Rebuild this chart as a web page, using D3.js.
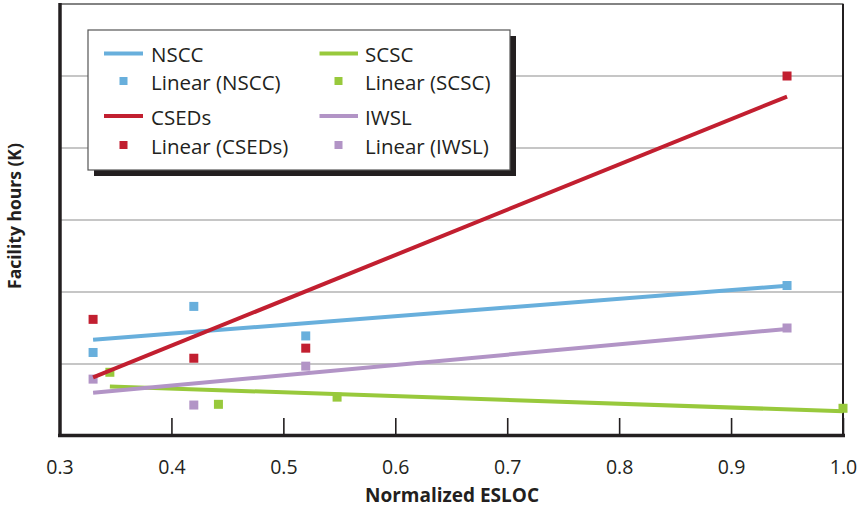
<!DOCTYPE html>
<html><head><meta charset="utf-8">
<script src="https://cdn.jsdelivr.net/npm/d3@7"></script>
<style>
html,body{margin:0;padding:0;background:#fff;}
svg{display:block;}
</style>
</head><body>
<svg id="chart" width="859" height="509"></svg>
<script>
// ---- data ----
const seriesNames = ["NSCC", "SCSC", "CSEDs", "IWSL"];
const seriesColors = ["#68afdc", "#98c93c", "#c21f30", "#b294c6"];
const xNSCC  = [0.33, 0.42, 0.52, 0.95];
const yNSCC  = [1.16, 1.80, 1.39, 2.09];
const xSCSC  = [0.345, 0.442, 0.548, 1.0];
const ySCSC  = [0.885, 0.44, 0.54, 0.385];
const xCSEDs = [0.33, 0.42, 0.52, 0.95];
const yCSEDs = [1.62, 1.08, 1.22, 5.0];
const xIWSL  = [0.33, 0.42, 0.52, 0.95];
const yIWSL  = [0.79, 0.43, 0.97, 1.50];
const xTicks = [0.3, 0.4, 0.5, 0.6, 0.7, 0.8, 0.9, 1.0];
const yGrid  = [1, 2, 3, 4, 5];
const xTitle = "Normalized ESLOC";
const yTitle = "Facility hours (K)";

const series = [
  {name: "NSCC", xs: xNSCC, ys: yNSCC},
  {name: "SCSC", xs: xSCSC, ys: ySCSC},
  {name: "CSEDs", xs: xCSEDs, ys: yCSEDs},
  {name: "IWSL", xs: xIWSL, ys: yIWSL}
].map((s, i) => ({...s, color: seriesColors[i]}));

const svg = d3.select("#chart");
const x = d3.scaleLinear().domain([0.3, 1.0]).range([59.5, 843]);
const y = d3.scaleLinear().domain([0, 6]).range([436, 4]);
const ink = "#231f20";

// gridlines
svg.append("g").selectAll("line").data(yGrid).join("line")
  .attr("x1", 61).attr("x2", 843)
  .attr("y1", d => y(d)).attr("y2", d => y(d))
  .attr("stroke", "#c6c6c6").attr("stroke-width", 2);

// frame top & right
svg.append("line").attr("x1", 60).attr("x2", 843.5).attr("y1", 4).attr("y2", 4)
  .attr("stroke", "#5a5a5a").attr("stroke-width", 1.5);
svg.append("line").attr("x1", 843).attr("x2", 843).attr("y1", 4).attr("y2", 436)
  .attr("stroke", ink).attr("stroke-width", 2);

// x axis
const xAxis = d3.axisBottom(x).tickValues(xTicks).tickFormat(d3.format(".1f"))
  .tickSizeInner(-18).tickSizeOuter(0).tickPadding(24);
const gx = svg.append("g").attr("transform", `translate(0,${y(0)})`).call(xAxis);
gx.select(".domain").remove();
gx.selectAll(".tick line").attr("stroke", ink).attr("stroke-width", 1.6);
gx.selectAll(".tick text").attr("fill", ink)
  .style("font-family", "'Open Sans', sans-serif").style("font-size", "19.5px");

// axis lines
svg.append("line").attr("x1", 58).attr("x2", 845).attr("y1", 435.5).attr("y2", 435.5)
  .attr("stroke", ink).attr("stroke-width", 3.5);
svg.append("line").attr("x1", 60).attr("x2", 60).attr("y1", 3).attr("y2", 437)
  .attr("stroke", ink).attr("stroke-width", 3.5);

// regression helper
function fit(xs, ys) {
  const mx = d3.mean(xs), my = d3.mean(ys);
  const sxy = d3.sum(xs, (v, i) => (v - mx) * (ys[i] - my));
  const sxx = d3.sum(xs, v => (v - mx) ** 2);
  const b = sxy / sxx, a = my - b * mx;
  const [lo, hi] = d3.extent(xs);
  return [[lo, a + b * lo], [hi, a + b * hi]];
}

const sq = 9;
// points
series.forEach(s => {
  svg.append("g").selectAll("rect").data(s.xs.map((v, i) => [v, s.ys[i]])).join("rect")
    .attr("x", d => x(d[0]) - sq / 2).attr("y", d => y(d[1]) - sq / 2)
    .attr("width", sq).attr("height", sq).attr("fill", s.color);
});
// trend lines
const line = d3.line().x(d => x(d[0])).y(d => y(d[1]));
series.forEach(s => {
  svg.append("path").attr("d", line(fit(s.xs, s.ys)))
    .attr("fill", "none").attr("stroke", s.color).attr("stroke-width", 4);
});

// axis titles
svg.append("text").attr("x", 452).attr("y", 502).attr("text-anchor", "middle")
  .attr("fill", ink).style("font-family", "'Open Sans', sans-serif")
  .style("font-weight", "bold").style("font-size", "19px").text(xTitle);
svg.append("text").attr("transform", "translate(21,216) rotate(-90)").attr("text-anchor", "middle")
  .attr("fill", ink).style("font-family", "'Open Sans', sans-serif")
  .style("font-weight", "bold").style("font-size", "17.5px").text(yTitle);

// legend
const lg = svg.append("g");
lg.append("rect").attr("x", 94).attr("y", 36).attr("width", 422).attr("height", 140).attr("fill", ink);
lg.append("rect").attr("x", 88).attr("y", 30).attr("width", 422).attr("height", 140)
  .attr("fill", "#fff").attr("stroke", "#555").attr("stroke-width", 1.2);
const colX = [[104, 143, 123.5, 151], [319.5, 358, 338.5, 365]];
const rowY = [[53.5, 81], [116, 145]];
const legendItems = [
  {s: 0, col: 0, row: 0}, {s: 1, col: 1, row: 0},
  {s: 2, col: 0, row: 1}, {s: 3, col: 1, row: 1}
];
legendItems.forEach(it => {
  const s = series[it.s], c = colX[it.col], r = rowY[it.row];
  lg.append("line").attr("x1", c[0]).attr("x2", c[1]).attr("y1", r[0]).attr("y2", r[0])
    .attr("stroke", s.color).attr("stroke-width", 4);
  lg.append("text").attr("x", c[3]).attr("y", r[0] + 8.5)
    .attr("fill", ink).style("font-family", "'Open Sans', sans-serif").style("font-size", "20.5px")
    .text(s.name);
  lg.append("rect").attr("x", c[2] - 4).attr("y", r[1] - 4).attr("width", 8).attr("height", 8)
    .attr("fill", s.color);
  lg.append("text").attr("x", c[3]).attr("y", r[1] + 8.5)
    .attr("fill", ink).style("font-family", "'Open Sans', sans-serif").style("font-size", "20.5px")
    .text(`Linear (${s.name})`);
});
</script>
</body></html>
